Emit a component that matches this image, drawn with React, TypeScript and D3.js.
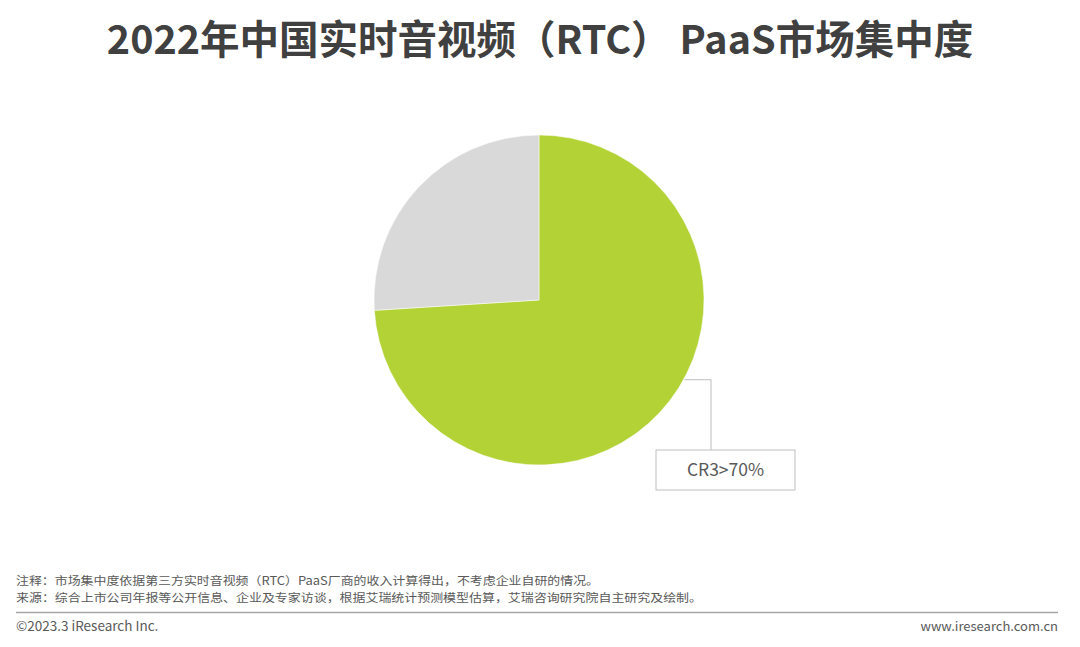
import React from "react";
import * as d3 from "d3";

const categories = ["CR3", "其他"];
const shares = [74, 26];
const colors = ["#b2d235", "#d9d9d9"];
const calloutLabel = "CR3>70%";
const title = "2022年中国实时音视频（RTC） PaaS市场集中度";
const notes = [
  "注释：市场集中度依据第三方实时音视频（RTC）PaaS厂商的收入计算得出，不考虑企业自研的情况。",
  "来源：综合上市公司年报等公开信息、企业及专家访谈，根据艾瑞统计预测模型估算，艾瑞咨询研究院自主研究及绘制。",
];
const noteWidths = [583, 686];
const copyright = "©2023.3 iResearch Inc.";
const website = "www.iresearch.com.cn";

const W = 1080;
const H = 647;
const FONT = "'Microsoft YaHei', 'Noto Sans CJK SC', 'Noto Sans', sans-serif";

export default function App() {
  const cx = 539;
  const cy = 300;
  const r = 165;
  const pie = d3
    .pie<number>()
    .sort(null)
    .value((d) => d)
    .startAngle(0)
    .endAngle(2 * Math.PI);
  const arcs = pie(shares);
  const arc = d3.arc<d3.PieArcDatum<number>>().innerRadius(0).outerRadius(r);

  // callout anchor on the edge of the first slice
  const anchorAngle = (118.7 * Math.PI) / 180;
  const ax = cx + (r + 1) * Math.sin(anchorAngle);
  const ay = cy - (r + 1) * Math.cos(anchorAngle);
  const elbowX = 711;
  const boxX = 656;
  const boxY = 450;
  const boxW = 139;
  const boxH = 40;

  return (
    <svg
      width={W}
      height={H}
      style={{ position: "absolute", left: 0, top: 0, background: "#fff" }}
      fontFamily={FONT}
    >
      <text
        x={540}
        y={54}
        textAnchor="middle"
        fontSize={39.5}
        fontWeight="bold"
        fill="#404040"
      >
        {title}
      </text>
      <g transform={`translate(${cx},${cy})`}>
        {arcs.map((a, i) => (
          <path key={categories[i]} d={arc(a) || ""} fill={colors[i]} stroke="#fff" strokeWidth={0.5} />
        ))}
      </g>
      <polyline
        points={`${ax},${ay} ${elbowX},${ay} ${elbowX},${boxY}`}
        fill="none"
        stroke="#bfbfbf"
        strokeWidth={1}
      />
      <rect x={boxX} y={boxY} width={boxW} height={boxH} fill="#fff" stroke="#bfbfbf" strokeWidth={1} />
      <text
        x={boxX + boxW / 2}
        y={boxY + boxH / 2 + 6}
        textAnchor="middle"
        fontSize={17.5}
        fill="#595959"
      >
        {calloutLabel}
      </text>
      {notes.map((n, i) => (
        <text
          key={i}
          x={16}
          y={585 + i * 17}
          fontSize={11.6}
          fill="#595959"
          textLength={noteWidths[i]}
          lengthAdjust="spacingAndGlyphs"
        >
          {n}
        </text>
      ))}
      <line x1={16} x2={1058} y1={612.5} y2={612.5} stroke="#a6a6a6" strokeWidth={1.5} />
      <text x={16} y={631} fontSize={13.5} fill="#595959">
        {copyright}
      </text>
      <text x={1058} y={631} fontSize={13} fill="#595959" textAnchor="end">
        {website}
      </text>
    </svg>
  );
}
